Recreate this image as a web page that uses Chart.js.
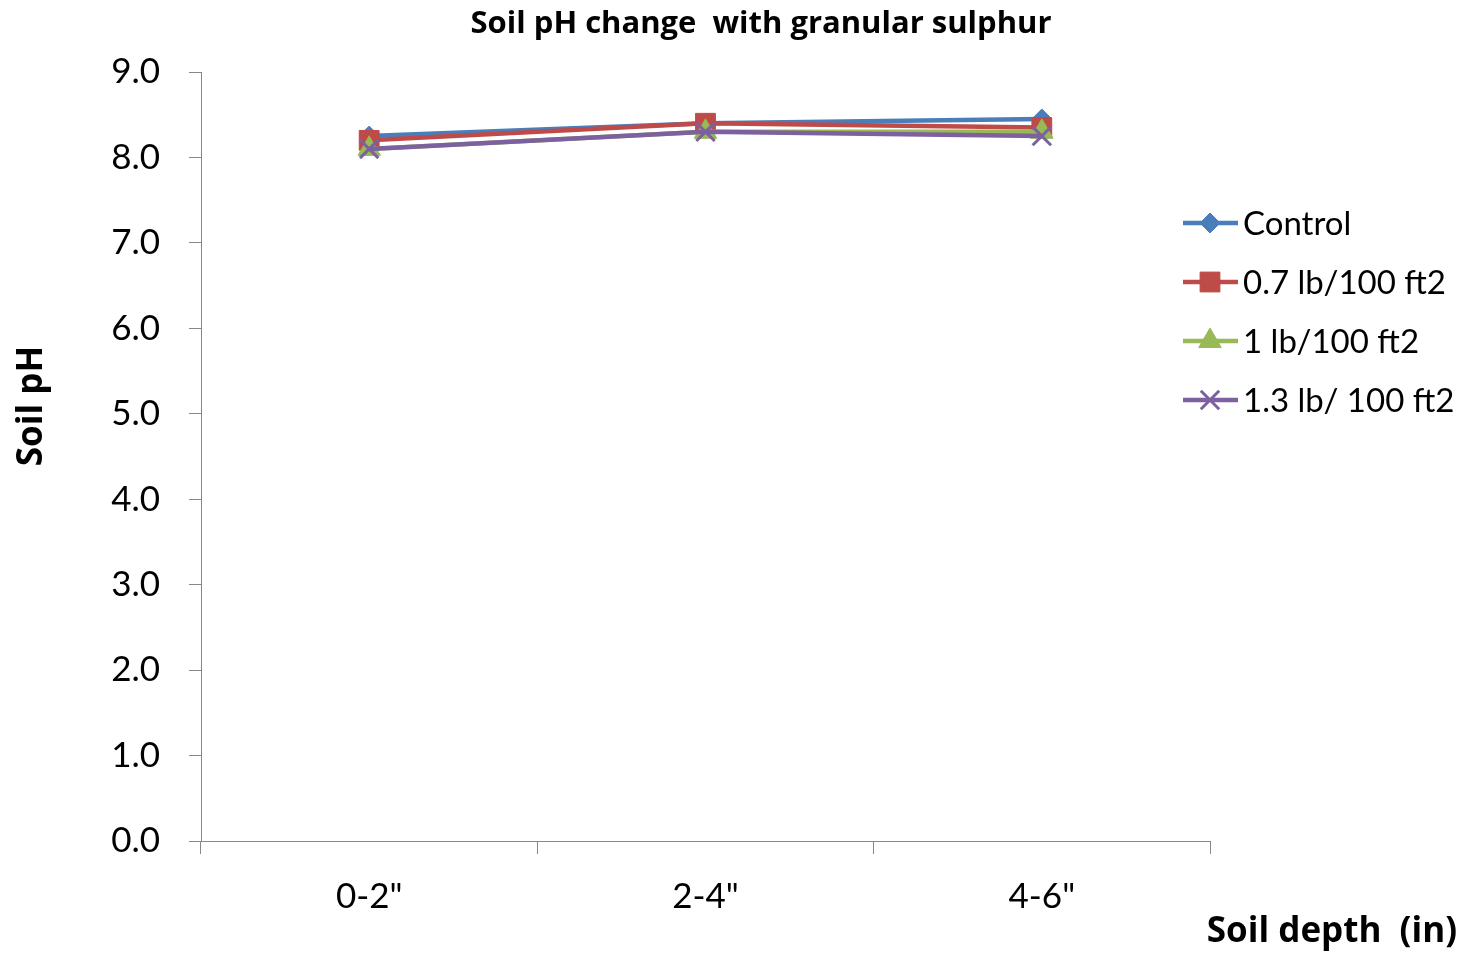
<!DOCTYPE html>
<html>
<head>
<meta charset="utf-8">
<script src="https://cdn.jsdelivr.net/npm/chart.js@4"></script>
<style>
  html, body { margin: 0; padding: 0; background: #ffffff; }
  #wrap { width: 1462px; height: 957px; position: relative; }
</style>
</head>
<body>
<div id="wrap"><canvas id="c" width="1462" height="957"></canvas></div>
<script>
const categories = ['0-2"', '2-4"', '4-6"'];
const seriesNames = ['Control', '0.7 lb/100 ft2', '1 lb/100 ft2', '1.3 lb/ 100 ft2'];
const controlValues = [8.25, 8.4, 8.45];
const rate07Values = [8.2, 8.4, 8.35];
const rate1Values = [8.1, 8.3, 8.3];
const rate13Values = [8.1, 8.3, 8.25];
const yTicks = [0, 1, 2, 3, 4, 5, 6, 7, 8, 9];

const chartTitle = 'Soil pH change  with granular sulphur';
const xTitle = 'Soil depth  (in)';
const yTitle = 'Soil pH';

const colors = ['#4A7EBB', '#BE4B48', '#98B954', '#7D60A0'];
const styles = ['rectRot', 'rect', 'triangle', 'crossRot'];
const radii = [10, 14, 13, 13];
const valuesList = [controlValues, rate07Values, rate1Values, rate13Values];

const FONT = 'Lato, "Open Sans", sans-serif';
const BOLD_FONT = '"Open Sans", Lato, sans-serif';

const datasets = seriesNames.map((name, i) => ({
  label: name,
  data: valuesList[i],
  borderColor: colors[i],
  backgroundColor: colors[i],
  pointBackgroundColor: colors[i],
  pointBorderColor: colors[i],
  pointStyle: styles[i],
  pointRadius: radii[i],
  pointHoverRadius: radii[i],
  pointBorderWidth: styles[i] === 'crossRot' ? 3 : 1,
  borderWidth: 4.5,
  tension: 0,
  order: seriesNames.length - i
}));

const textPlugin = {
  id: 'texts',
  afterDraw(chart) {
    const ctx = chart.ctx;
    ctx.save();
    ctx.fillStyle = '#000';
    // title
    ctx.font = 'bold 31px ' + BOLD_FONT;
    ctx.textAlign = 'center';
    ctx.textBaseline = 'alphabetic';
    ctx.fillText(chartTitle, 761, 33);
    // x title
    ctx.font = 'bold 35px ' + BOLD_FONT;
    ctx.textAlign = 'right';
    ctx.fillText(xTitle, 1457, 942);
    // y title
    ctx.save();
    ctx.translate(42, 406);
    ctx.rotate(-Math.PI / 2);
    ctx.textAlign = 'center';
    ctx.fillText(yTitle, 0, 0);
    ctx.restore();
    // legend
    const rowsY = [223, 282, 341, 400];
    chart.data.datasets.forEach((ds, i) => {
      const y = rowsY[i];
      ctx.strokeStyle = ds.borderColor;
      ctx.lineWidth = 4.5;
      ctx.beginPath();
      ctx.moveTo(1183, y);
      ctx.lineTo(1238, y);
      ctx.stroke();
      ctx.fillStyle = ds.backgroundColor;
      ctx.strokeStyle = ds.borderColor;
      ctx.lineWidth = ds.pointBorderWidth;
      if (Chart.helpers && Chart.helpers.drawPoint) {
        Chart.helpers.drawPoint(ctx, {
          pointStyle: ds.pointStyle,
          radius: ds.pointRadius,
          rotation: 0,
          borderWidth: ds.pointBorderWidth
        }, 1210, y);
      }
      ctx.fillStyle = '#000';
      ctx.font = '33px ' + FONT;
      ctx.textAlign = 'left';
      ctx.textBaseline = 'alphabetic';
      ctx.fillText(ds.label, 1243, y + 12);
    });
    ctx.restore();
  }
};

new Chart(document.getElementById('c'), {
  type: 'line',
  data: { labels: categories, datasets: datasets },
  options: {
    responsive: false,
    animation: false,
    devicePixelRatio: 1,
    layout: { padding: { left: 0, right: 252, top: 72, bottom: 0 } },
    plugins: {
      legend: { display: false },
      title: { display: false },
      tooltip: { enabled: false }
    },
    scales: {
      x: {
        type: 'category',
        offset: true,
        afterFit(scale) { scale.height = 116; },
        grid: {
          display: true,
          offset: true,
          drawOnChartArea: false,
          drawTicks: true,
          tickLength: 13,
          color: '#888888',
          lineWidth: 1
        },
        border: { display: true, color: '#888888', width: 1 },
        ticks: {
          color: '#000',
          font: { family: FONT, size: 35 },
          padding: 22,
          maxRotation: 0
        }
      },
      y: {
        min: 0,
        max: 9,
        afterFit(scale) { scale.width = 201; },
        afterBuildTicks(scale) { scale.ticks = yTicks.map(v => ({ value: v })); },
        grid: {
          display: true,
          drawOnChartArea: false,
          drawTicks: true,
          tickLength: 12,
          color: '#888888',
          lineWidth: 1
        },
        border: { display: true, color: '#888888', width: 1 },
        ticks: {
          color: '#000',
          font: { family: FONT, size: 35 },
          padding: 29,
          callback: (v) => Number(v).toFixed(1)
        }
      }
    }
  },
  plugins: [textPlugin]
});
</script>
</body>
</html>
